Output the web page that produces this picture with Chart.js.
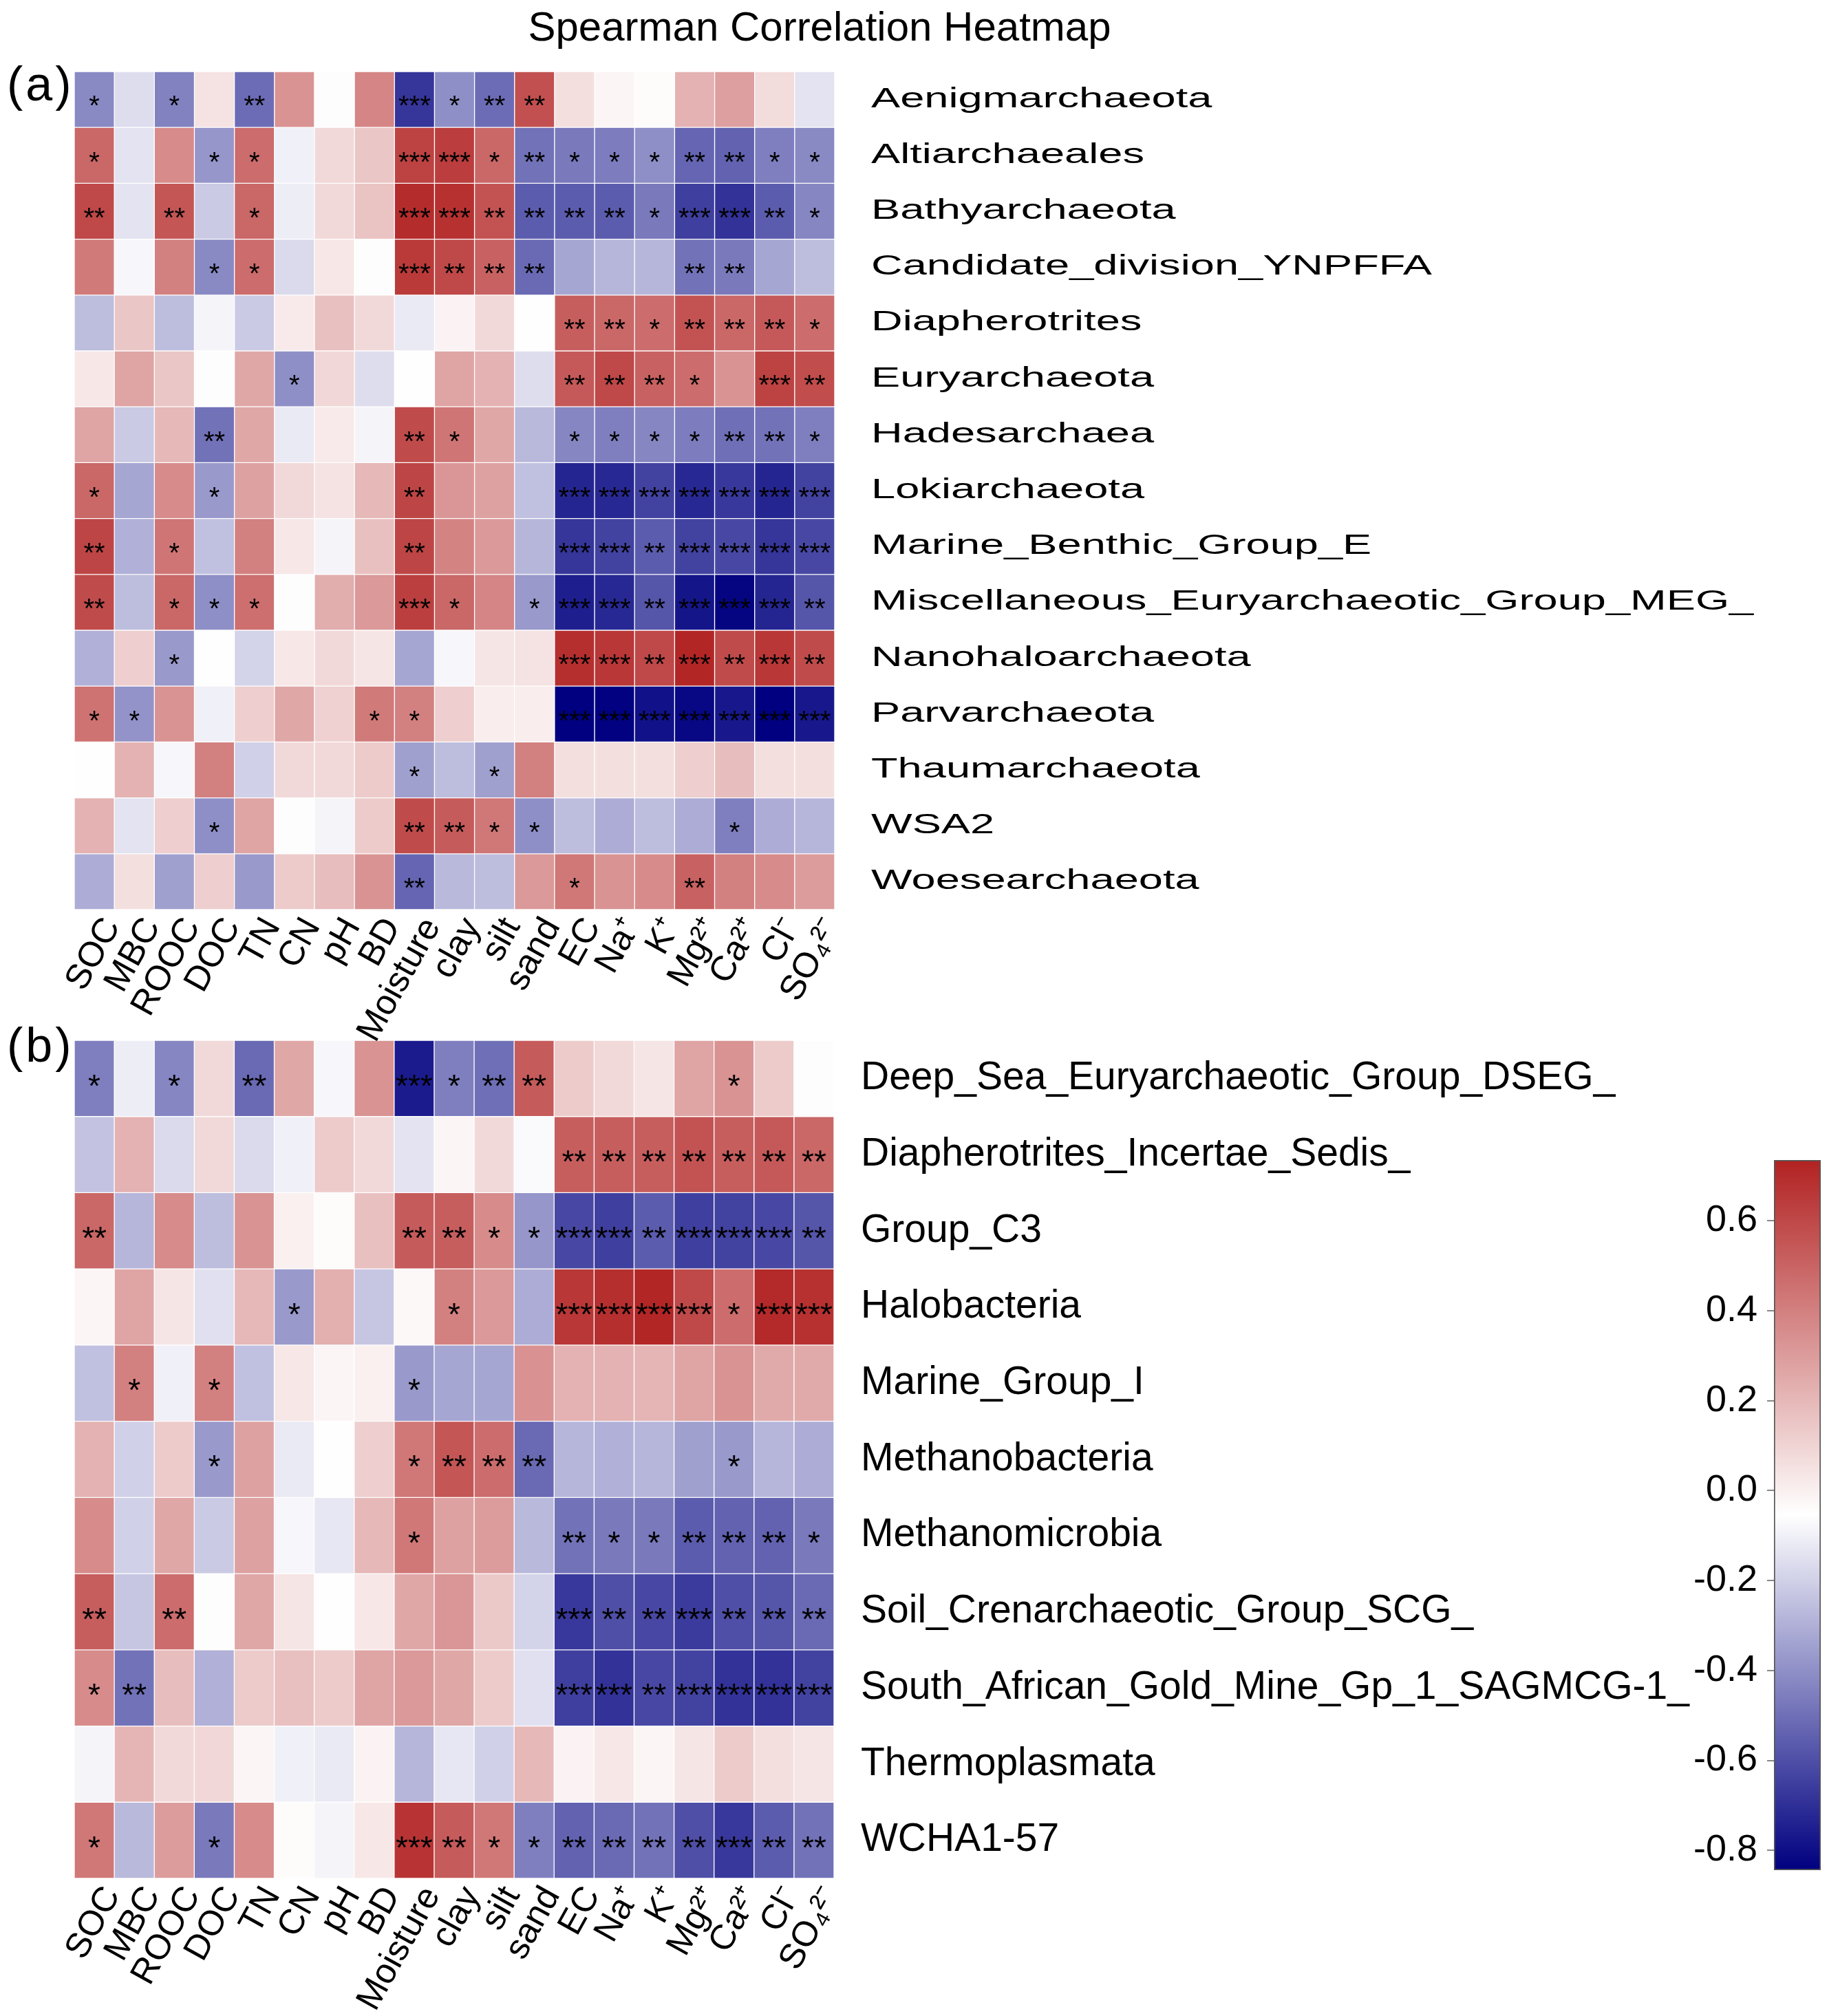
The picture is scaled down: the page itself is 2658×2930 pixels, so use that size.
<!DOCTYPE html>
<html>
<head>
<meta charset="utf-8">
<title>Spearman Correlation Heatmap</title>
<script src="https://cdn.jsdelivr.net/npm/chart.js@4.4.0/dist/chart.umd.min.js"></script>
<style>
  body { margin: 0; background: #fff; width: 2658px; height: 2930px; position: relative; overflow: hidden;
         font-family: 'Liberation Sans', Arial, sans-serif; }
  canvas { position: absolute; background: transparent; }
  #title { position: absolute; left: 0; width: 2382px; top: 9px; text-align: center; font-size: 60px; line-height: 60px; }
  .panel { position: absolute; left: 10px; font-size: 70px; line-height: 70px; letter-spacing: 4px; }
</style>
</head>
<body>
<div id="title">Spearman Correlation Heatmap</div>
<div class="panel" style="top:87px">(a)</div>
<div class="panel" style="top:1484px">(b)</div>
<canvas id="heatB" width="2658" height="1440" style="left:0;top:1490px;z-index:1"></canvas>
<canvas id="heatA" width="2658" height="1530" style="left:0;top:0;z-index:2"></canvas>
<canvas id="scale" width="278" height="1200" style="left:2380px;top:1600px;z-index:3"></canvas>
<script>
// soil / water properties (columns)
const columns = ['SOC', 'MBC', 'ROOC', 'DOC', 'TN', 'CN', 'pH', 'BD', 'Moisture', 'clay', 'silt', 'sand',
  'EC', 'Na⁺', 'K⁺', 'Mg²⁺', 'Ca²⁺', 'Cl⁻', 'SO₄²⁻'];

// panel (a) taxa
const rowsA = ['Aenigmarchaeota', 'Altiarchaeales', 'Bathyarchaeota', 'Candidate_division_YNPFFA',
  'Diapherotrites', 'Euryarchaeota', 'Hadesarchaea', 'Lokiarchaeota', 'Marine_Benthic_Group_E',
  'Miscellaneous_Euryarchaeotic_Group_MEG_', 'Nanohaloarchaeota', 'Parvarchaeota', 'Thaumarchaeota',
  'WSA2', 'Woesearchaeota'];

const rhoA = [
  [-0.42, -0.16, -0.44, 0.05, -0.51, 0.33, -0.06, 0.38, -0.68, -0.40, -0.51, 0.57, 0.06, -0.02, -0.04, 0.22, 0.29, 0.07, -0.14],
  [0.49, -0.14, 0.36, -0.38, 0.47, -0.10, 0.08, 0.15, 0.62, 0.64, 0.49, -0.49, -0.47, -0.46, -0.40, -0.53, -0.54, -0.45, -0.42],
  [0.60, -0.14, 0.55, -0.22, 0.49, -0.11, 0.08, 0.16, 0.70, 0.68, 0.56, -0.56, -0.56, -0.56, -0.47, -0.65, -0.69, -0.56, -0.43],
  [0.42, -0.08, 0.40, -0.42, 0.47, -0.17, 0.03, -0.06, 0.65, 0.60, 0.51, -0.52, -0.33, -0.28, -0.28, -0.49, -0.47, -0.33, -0.26],
  [-0.26, 0.15, -0.26, -0.09, -0.22, 0.02, 0.17, 0.08, -0.12, -0.01, 0.08, -0.05, 0.52, 0.49, 0.47, 0.56, 0.49, 0.54, 0.47],
  [0.03, 0.27, 0.15, -0.06, 0.26, -0.40, 0.09, -0.16, -0.05, 0.27, 0.22, -0.16, 0.54, 0.60, 0.51, 0.47, 0.33, 0.62, 0.58],
  [0.27, -0.22, 0.20, -0.49, 0.26, -0.12, 0.02, -0.09, 0.59, 0.44, 0.26, -0.27, -0.43, -0.45, -0.43, -0.46, -0.50, -0.49, -0.45],
  [0.49, -0.33, 0.36, -0.37, 0.28, 0.08, 0.05, 0.20, 0.61, 0.32, 0.28, -0.25, -0.73, -0.72, -0.64, -0.72, -0.67, -0.73, -0.64],
  [0.61, -0.30, 0.44, -0.25, 0.40, 0.03, -0.09, 0.17, 0.61, 0.39, 0.31, -0.28, -0.68, -0.64, -0.56, -0.64, -0.62, -0.68, -0.62],
  [0.59, -0.26, 0.49, -0.40, 0.46, -0.06, 0.24, 0.31, 0.63, 0.49, 0.38, -0.37, -0.75, -0.72, -0.58, -0.78, -0.83, -0.73, -0.58],
  [-0.30, 0.12, -0.37, -0.05, -0.19, 0.03, 0.08, 0.04, -0.33, -0.08, 0.04, 0.05, 0.69, 0.66, 0.60, 0.72, 0.59, 0.66, 0.59],
  [0.45, -0.39, 0.33, -0.10, 0.12, 0.26, 0.11, 0.42, 0.40, 0.12, 0.01, 0.01, -0.85, -0.84, -0.79, -0.82, -0.77, -0.85, -0.77],
  [-0.05, 0.22, -0.08, 0.40, -0.20, 0.08, 0.08, 0.13, -0.35, -0.26, -0.35, 0.40, 0.06, 0.06, 0.06, 0.12, 0.18, 0.06, 0.06],
  [0.22, -0.14, 0.12, -0.40, 0.27, -0.06, -0.09, 0.13, 0.59, 0.53, 0.43, -0.40, -0.26, -0.31, -0.26, -0.31, -0.45, -0.31, -0.28],
  [-0.31, 0.06, -0.35, 0.12, -0.37, 0.13, 0.18, 0.33, -0.53, -0.27, -0.26, 0.31, 0.43, 0.33, 0.36, 0.51, 0.40, 0.36, 0.30]
];

// number of significance stars per cell, panel (a)
const starsA = [
  [1, 0, 1, 0, 2, 0, 0, 0, 3, 1, 2, 2, 0, 0, 0, 0, 0, 0, 0],
  [1, 0, 0, 1, 1, 0, 0, 0, 3, 3, 1, 2, 1, 1, 1, 2, 2, 1, 1],
  [2, 0, 2, 0, 1, 0, 0, 0, 3, 3, 2, 2, 2, 2, 1, 3, 3, 2, 1],
  [0, 0, 0, 1, 1, 0, 0, 0, 3, 2, 2, 2, 0, 0, 0, 2, 2, 0, 0],
  [0, 0, 0, 0, 0, 0, 0, 0, 0, 0, 0, 0, 2, 2, 1, 2, 2, 2, 1],
  [0, 0, 0, 0, 0, 1, 0, 0, 0, 0, 0, 0, 2, 2, 2, 1, 0, 3, 2],
  [0, 0, 0, 2, 0, 0, 0, 0, 2, 1, 0, 0, 1, 1, 1, 1, 2, 2, 1],
  [1, 0, 0, 1, 0, 0, 0, 0, 2, 0, 0, 0, 3, 3, 3, 3, 3, 3, 3],
  [2, 0, 1, 0, 0, 0, 0, 0, 2, 0, 0, 0, 3, 3, 2, 3, 3, 3, 3],
  [2, 0, 1, 1, 1, 0, 0, 0, 3, 1, 0, 1, 3, 3, 2, 3, 3, 3, 2],
  [0, 0, 1, 0, 0, 0, 0, 0, 0, 0, 0, 0, 3, 3, 2, 3, 2, 3, 2],
  [1, 1, 0, 0, 0, 0, 0, 1, 1, 0, 0, 0, 3, 3, 3, 3, 3, 3, 3],
  [0, 0, 0, 0, 0, 0, 0, 0, 1, 0, 1, 0, 0, 0, 0, 0, 0, 0, 0],
  [0, 0, 0, 1, 0, 0, 0, 0, 2, 2, 1, 1, 0, 0, 0, 0, 1, 0, 0],
  [0, 0, 0, 0, 0, 0, 0, 0, 2, 0, 0, 0, 1, 0, 0, 2, 0, 0, 0]
];

// panel (b) taxa
const rowsB = ['Deep_Sea_Euryarchaeotic_Group_DSEG_', 'Diapherotrites_Incertae_Sedis_', 'Group_C3',
  'Halobacteria', 'Marine_Group_I', 'Methanobacteria', 'Methanomicrobia', 'Soil_Crenarchaeotic_Group_SCG_',
  'South_African_Gold_Mine_Gp_1_SAGMCG-1_', 'Thermoplasmata', 'WCHA1-57'];

const rhoB = [
  [-0.45, -0.11, -0.43, 0.08, -0.52, 0.26, -0.08, 0.33, -0.76, -0.45, -0.50, 0.53, 0.13, 0.08, 0.04, 0.27, 0.33, 0.13, -0.06],
  [-0.24, 0.22, -0.17, 0.08, -0.17, -0.10, 0.13, 0.08, -0.14, -0.02, 0.08, -0.07, 0.52, 0.52, 0.52, 0.56, 0.52, 0.54, 0.49],
  [0.49, -0.28, 0.36, -0.26, 0.33, 0.00, -0.04, 0.17, 0.53, 0.52, 0.36, -0.38, -0.62, -0.65, -0.56, -0.65, -0.64, -0.62, -0.58],
  [-0.02, 0.27, 0.04, -0.15, 0.20, -0.37, 0.23, -0.23, -0.03, 0.40, 0.31, -0.31, 0.66, 0.69, 0.72, 0.60, 0.47, 0.71, 0.68],
  [-0.25, 0.40, -0.10, 0.40, -0.25, 0.03, -0.02, 0.00, -0.37, -0.33, -0.33, 0.34, 0.22, 0.22, 0.21, 0.27, 0.33, 0.25, 0.25],
  [0.22, -0.20, 0.13, -0.37, 0.28, -0.12, -0.05, 0.12, 0.43, 0.55, 0.47, -0.52, -0.28, -0.30, -0.28, -0.35, -0.37, -0.28, -0.31],
  [0.36, -0.20, 0.26, -0.22, 0.28, -0.08, -0.13, 0.20, 0.43, 0.28, 0.30, -0.27, -0.49, -0.47, -0.47, -0.56, -0.54, -0.54, -0.47],
  [0.52, -0.23, 0.47, -0.06, 0.26, 0.04, -0.05, 0.03, 0.26, 0.32, 0.14, -0.19, -0.67, -0.60, -0.62, -0.66, -0.60, -0.58, -0.52],
  [0.36, -0.49, 0.18, -0.30, 0.13, 0.17, 0.13, 0.27, 0.31, 0.26, 0.13, -0.15, -0.65, -0.69, -0.62, -0.64, -0.69, -0.69, -0.64],
  [-0.09, 0.21, 0.08, 0.09, -0.02, -0.10, -0.12, -0.01, -0.28, -0.13, -0.20, 0.20, -0.01, 0.03, -0.02, 0.04, 0.13, 0.06, 0.04],
  [0.43, -0.27, 0.30, -0.47, 0.36, -0.04, -0.09, 0.03, 0.67, 0.53, 0.43, -0.45, -0.54, -0.52, -0.49, -0.60, -0.67, -0.56, -0.49]
];

const starsB = [
  [1, 0, 1, 0, 2, 0, 0, 0, 3, 1, 2, 2, 0, 0, 0, 0, 1, 0, 0],
  [0, 0, 0, 0, 0, 0, 0, 0, 0, 0, 0, 0, 2, 2, 2, 2, 2, 2, 2],
  [2, 0, 0, 0, 0, 0, 0, 0, 2, 2, 1, 1, 3, 3, 2, 3, 3, 3, 2],
  [0, 0, 0, 0, 0, 1, 0, 0, 0, 1, 0, 0, 3, 3, 3, 3, 1, 3, 3],
  [0, 1, 0, 1, 0, 0, 0, 0, 1, 0, 0, 0, 0, 0, 0, 0, 0, 0, 0],
  [0, 0, 0, 1, 0, 0, 0, 0, 1, 2, 2, 2, 0, 0, 0, 0, 1, 0, 0],
  [0, 0, 0, 0, 0, 0, 0, 0, 1, 0, 0, 0, 2, 1, 1, 2, 2, 2, 1],
  [2, 0, 2, 0, 0, 0, 0, 0, 0, 0, 0, 0, 3, 2, 2, 3, 2, 2, 2],
  [1, 2, 0, 0, 0, 0, 0, 0, 0, 0, 0, 0, 3, 3, 2, 3, 3, 3, 3],
  [0, 0, 0, 0, 0, 0, 0, 0, 0, 0, 0, 0, 0, 0, 0, 0, 0, 0, 0],
  [1, 0, 0, 1, 0, 0, 0, 0, 3, 2, 1, 1, 2, 2, 2, 2, 3, 2, 2]
];

// colour scale limits and the legend ticks
const scaleMin = -0.844;
const scaleMax = 0.735;
const scaleTicks = [-0.8, -0.6, -0.4, -0.2, 0.0, 0.2, 0.4, 0.6];

const FONT = "'Liberation Sans', Arial, sans-serif";

// navy -> white -> firebrick, white in the middle of the range
function rhoColor(v) {
  const mid = (scaleMin + scaleMax) / 2;
  let r, g, b, t;
  if (v >= mid) {
    t = Math.min(1, (v - mid) / (scaleMax - mid));
    r = 255 + (178 - 255) * t;
    g = 255 + (34 - 255) * t;
    b = g;
  } else {
    t = Math.min(1, (mid - v) / (mid - scaleMin));
    r = 255 * (1 - t);
    g = r;
    b = 255 + (128 - 255) * t;
  }
  return 'rgb(' + Math.round(r) + ',' + Math.round(g) + ',' + Math.round(b) + ')';
}

const starPlugin = {
  id: 'stars',
  afterDatasetsDraw(chart, args, opts) {
    const ctx = chart.ctx;
    ctx.save();
    ctx.fillStyle = '#000';
    ctx.font = opts.size + 'px ' + FONT;
    ctx.textAlign = 'center';
    ctx.textBaseline = 'alphabetic';
    chart.data.datasets.forEach((ds, i) => {
      chart.getDatasetMeta(i).data.forEach((bar, j) => {
        const n = ds.stars[j];
        if (!n) return;
        const yc = (bar.y + bar.base) / 2;
        ctx.fillText('*'.repeat(n), bar.x, yc + opts.size * 0.57);
      });
    });
    ctx.restore();
  }
};

const rowLabelPlugin = {
  id: 'rowLabels',
  afterDraw(chart, args, opts) {
    const ctx = chart.ctx;
    const y = chart.scales.y;
    ctx.save();
    ctx.fillStyle = '#000';
    ctx.font = opts.size + 'px ' + FONT;
    ctx.textAlign = 'left';
    ctx.textBaseline = 'middle';
    chart.data.datasets.forEach((ds, i) => {
      const yc = (y.getPixelForValue(i) + y.getPixelForValue(i + 1)) / 2;
      ctx.save();
      ctx.translate(chart.chartArea.right + opts.gap, yc);
      ctx.scale(opts.stretch, 1);
      ctx.fillText(ds.label, 0, 0);
      ctx.restore();
    });
    ctx.restore();
  }
};

function heatmap(id, rows, rho, stars, o) {
  const canvas = document.getElementById(id);
  const datasets = rows.map((name, i) => ({
    label: name,
    data: columns.map(() => 1),
    backgroundColor: rho[i].map(rhoColor),
    borderColor: 'rgba(255,255,255,0.9)',
    borderWidth: 1,
    borderSkipped: false,
    barPercentage: 1,
    categoryPercentage: 1,
    stars: stars[i]
  }));
  return new Chart(canvas, {
    type: 'bar',
    data: { labels: columns, datasets: datasets },
    options: {
      responsive: false,
      animation: false,
      events: [],
      layout: { padding: { left: 108, top: o.top, right: 0, bottom: 0 } },
      plugins: {
        legend: { display: false },
        tooltip: { enabled: false },
        stars: { size: o.starSize },
        rowLabels: { size: o.labelSize, stretch: o.stretch, gap: o.gap }
      },
      scales: {
        x: {
          stacked: true,
          grid: { display: false },
          border: { display: false },
          ticks: {
            color: '#000',
            font: { family: FONT, size: 51 },
            minRotation: 61,
            maxRotation: 61,
            autoSkip: false,
            padding: -6,
            labelOffset: 26
          },
          afterFit: s => { s.height = o.axisH; }
        },
        y: {
          stacked: true,
          min: 0,
          max: rows.length,
          reverse: true,
          position: 'right',
          grid: { display: false },
          border: { display: false },
          ticks: { display: false },
          afterFit: s => { s.width = canvas.width - o.right; }
        }
      }
    },
    plugins: [starPlugin, rowLabelPlugin]
  });
}

heatmap('heatA', rowsA, rhoA, starsA, { top: 104, axisH: 208, right: 1213, starSize: 40, labelSize: 40, stretch: 1.58, gap: 53 });
heatmap('heatB', rowsB, rhoB, starsB, { top: 22, axisH: 200, right: 1212, starSize: 46, labelSize: 57, stretch: 1, gap: 39 });

// colour key
new Chart(document.getElementById('scale'), {
  type: 'bar',
  data: {
    labels: [''],
    datasets: [{
      data: [[scaleMin, scaleMax]],
      backgroundColor: c => {
        const ch = c.chart;
        const y = ch.scales.y;
        if (!ch.chartArea || !y) return rhoColor(0);
        const g = ch.ctx.createLinearGradient(0, y.getPixelForValue(scaleMin), 0, y.getPixelForValue(scaleMax));
        g.addColorStop(0, rhoColor(scaleMin));
        g.addColorStop(0.5, rhoColor((scaleMin + scaleMax) / 2));
        g.addColorStop(1, rhoColor(scaleMax));
        return g;
      },
      borderColor: '#555',
      borderWidth: 2,
      borderSkipped: false,
      barPercentage: 1,
      categoryPercentage: 1
    }]
  },
  options: {
    responsive: false,
    animation: false,
    events: [],
    layout: { padding: { left: 0, top: 86, right: 12, bottom: 82 } },
    plugins: { legend: { display: false }, tooltip: { enabled: false } },
    scales: {
      x: { display: false },
      y: {
        min: scaleMin,
        max: scaleMax,
        position: 'left',
        grid: { drawOnChartArea: false, tickLength: 10, color: '#888', lineWidth: 2 },
        border: { display: false },
        afterBuildTicks: s => { s.ticks = scaleTicks.map(v => ({ value: v })); },
        ticks: {
          color: '#000',
          font: { family: FONT, size: 54 },
          padding: 14,
          callback: v => (Math.abs(v) < 1e-9 ? 0 : v).toFixed(1)
        },
        afterFit: s => { s.width = 198; }
      }
    }
  }
});
</script>
</body>
</html>
